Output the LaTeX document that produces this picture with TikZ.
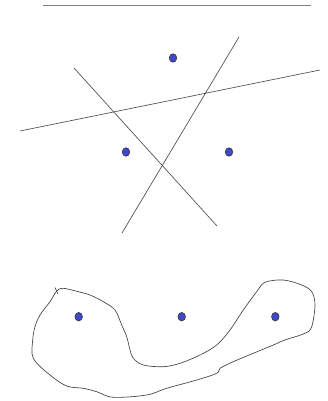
\documentclass[tikz,border=0pt]{standalone}
\usetikzlibrary{shapes.geometric}
\begin{document}
\begin{tikzpicture}[x=1pt,y=-1pt,
  dot/.style={ellipse,draw=black!80,line width=0.6pt,fill={rgb,255:red,64;green,72;blue,204},inner sep=0pt,minimum width=7.5pt,minimum height=8.5pt},
  thin line/.style={draw=black!70,line width=0.65pt},
  blob/.style={draw=black!75,line width=0.65pt}]
\useasboundingbox (0,0) rectangle (327,401);
% top rule
\coordinate (t1) at (43,5.5); \coordinate (t2) at (311,5.5);
\draw[draw=black!50,line width=1pt] (t1) -- (t2);
% three lines
\coordinate (a1) at (20,131); \coordinate (a2) at (320,70);
\coordinate (b1) at (239,37); \coordinate (b2) at (122,233);
\coordinate (c1) at (74,68); \coordinate (c2) at (217,226);
\draw[thin line] (a1) -- (a2);
\draw[thin line] (b1) -- (b2);
\draw[thin line] (c1) -- (c2);
% upper points
\node[dot] (p1) at (173,58) {};
\node[dot] (p2) at (126,152) {};
\node[dot] (p3) at (229,152) {};
% blob
\draw[blob] plot[smooth cycle,tension=0.55] coordinates {
 (56.7,291) (63.3,288.3) (78.3,291.7) (90,295) (103.3,301.7) (115,310)
 (121.7,325) (126.7,336.7) (130,350) (133.3,358.3) (143.3,365) (163.3,366.7)
 (180,363.3) (200,355) (216.7,345) (230,330) (243.3,310) (256.7,291.7)
 (265,282.3) (283.3,280) (301.7,285) (311.7,291.7) (315,305) (311.7,326.7)
 (305,333.3) (285,340) (273.3,345) (253.3,353.3) (233.3,361.7) (220,368.3)
 (216.7,373.3) (196.7,380) (166.7,388.3) (146.7,395) (113.3,397.3) (96.7,391.7)
 (83.3,388.3) (66.7,386) (50,375) (33.3,358.3) (32.7,340) (35,326.7)
 (40,315) (50,301.7)};
\draw[blob] (55,287.5) -- (58,294);
% lower points
\node[dot] (q1) at (78.7,316.7) {};
\node[dot] (q2) at (181.7,316.7) {};
\node[dot] (q3) at (275.3,316.7) {};
\end{tikzpicture}
\end{document}
